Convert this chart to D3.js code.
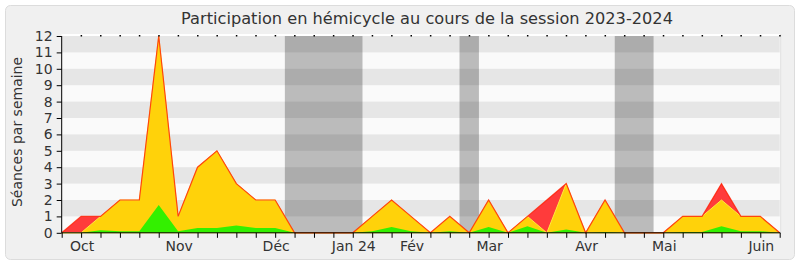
<!DOCTYPE html>
<html><head><meta charset="utf-8">
<script src="https://cdn.jsdelivr.net/npm/d3@7"></script>
<style>body{margin:0;background:#fff}svg{display:block}text{font-family:"DejaVu Sans",sans-serif;fill:#333}</style>
</head><body><svg id="c" width="800" height="267"></svg>
<script>
// week index 0..37
const presence = [0,1,1,2,2,12,1,4,5,3,2,2,0,0,0,0,1,2,1,0,1,0,2,0,1,2,3,0,2,0,0,0,1,1,3,1,1,0];
const participation = [0,0,1,2,2,12,1,4,5,3,2,2,0,0,0,0,1,2,1,0,1,0,2,0,1,0,3,0,2,0,0,0,1,1,2,1,1,0];
const interventions = [0,0,0.15,0.1,0.1,1.7,0.1,0.3,0.3,0.45,0.3,0.3,0,0,0,0,0.1,0.35,0.1,0,0.1,0,0.35,0,0.4,0,0.2,0,0.05,0,0,0,0.05,0.05,0.4,0.1,0.1,0];
const vacations = [[11.5,15.5],[20.5,21.5],[28.5,30.5]];
const monthLabels = [{i:1,t:"Oct"},{i:6,t:"Nov"},{i:11,t:"Déc"},{i:15,t:"Jan 24"},{i:18,t:"Fév"},{i:22,t:"Mar"},{i:27,t:"Avr"},{i:31,t:"Mai"},{i:36,t:"Juin"}];
const yTicks = d3.range(0,13);
const title = "Participation en hémicycle au cours de la session 2023-2024";
const yLabel = "Séances par semaine";

const svg = d3.select("#c");
const x = d3.scaleLinear().domain([0,37]).range([61.7,779.7]);
const y = d3.scaleLinear().domain([0,12]).range([232.8,36]);

svg.append("rect").attr("x",5.5).attr("y",5.5).attr("width",789).attr("height",254).attr("rx",5)
  .attr("fill","#f0f0f0").attr("stroke","#dcdcdc");

svg.append("text").attr("x",427).attr("y",24).attr("text-anchor","middle").attr("font-size",16.2).text(title);

// plot background
svg.append("rect").attr("x",x(0)).attr("y",34).attr("width",x(37)-x(0)+1).attr("height",y(0)-34).attr("fill","#fafafa");
svg.append("rect").attr("x",x(0)).attr("y",34).attr("width",x(37)-x(0)+1).attr("height",2).attr("fill","#ffffff");
for (let k=1;k<12;k+=2){
  svg.append("rect").attr("x",x(0)).attr("y",y(k+1)).attr("width",x(37)-x(0)).attr("height",y(k)-y(k+1)).attr("fill","#e6e6e6");
}
// vacations
vacations.forEach(v=>{
  svg.append("rect").attr("x",x(v[0])).attr("y",y(12)).attr("width",x(v[1])-x(v[0])).attr("height",y(0)-y(12)).attr("fill","rgba(0,0,0,0.25)");
});

const idx = d3.range(presence.length);
const area = arr => d3.area().x(i=>x(i)).y0(y(0)).y1(i=>y(arr[i]))(idx);
const line = arr => d3.line().x(i=>x(i)).y(i=>y(arr[i]))(idx);

svg.append("path").attr("d",area(presence)).attr("fill","#ff3b3b");
svg.append("path").attr("d",area(participation)).attr("fill","#ffd20a").attr("stroke","#ffe840").attr("stroke-width",1);
svg.append("path").attr("d",area(interventions)).attr("fill","#33f000");
svg.append("path").attr("d",line(presence)).attr("fill","none").attr("stroke","rgba(255,30,0,0.8)").attr("stroke-width",1.2);

// axes
svg.append("line").attr("x1",x(0)).attr("x2",x(37)+1).attr("y1",y(0)).attr("y2",y(0)).attr("stroke","#000");
svg.append("line").attr("x1",x(0)).attr("x2",x(0)).attr("y1",y(12)).attr("y2",y(0)).attr("stroke","#000");
svg.append("line").attr("x1",x(37)+1).attr("x2",x(37)+1).attr("y1",34).attr("y2",y(0)).attr("stroke","#e0e0e0");

const yAxis = d3.axisLeft(y).tickValues(yTicks).tickSize(5).tickPadding(4).tickFormat(d3.format("d"));
const gy = svg.append("g").attr("transform",`translate(${x(0)},0)`).call(yAxis);
gy.select(".domain").remove();
gy.selectAll("text").attr("font-size",14).attr("font-family","DejaVu Sans").attr("fill","#333");

const xAxis = d3.axisBottom(x).tickValues(idx).tickSize(5).tickFormat("");
const gx = svg.append("g").attr("transform",`translate(0,${y(0)})`).call(xAxis);
gx.select(".domain").remove();

// top dots
svg.selectAll(".dot").data(idx.slice(1)).enter().append("rect").attr("x",i=>x(i)-0.5).attr("y",35).attr("width",1.5).attr("height",1.5).attr("fill","#000");

svg.selectAll(".ml").data(monthLabels).enter().append("text").attr("x",d=>x(d.i)+1).attr("y",250.5)
  .attr("text-anchor","middle").attr("font-size",14).text(d=>d.t);

svg.append("text").attr("transform","translate(22,132) rotate(-90)").attr("text-anchor","middle").attr("font-size",14).text(yLabel);
</script></body></html>
